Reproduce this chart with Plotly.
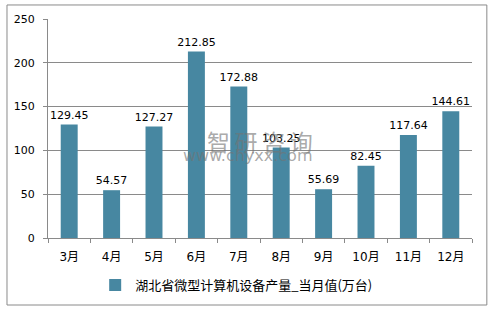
import plotly.graph_objects as go

categories = ["3月", "4月", "5月", "6月", "7月", "8月", "9月", "10月", "11月", "12月"]
values = [129.45, 54.57, 127.27, 212.85, 172.88, 103.25, 55.69, 82.45, 117.64, 144.61]
series_name = "湖北省微型计算机设备产量_当月值(万台)"
y_ticks = [0, 50, 100, 150, 200, 250]

num_font = "DejaVu Sans, Noto Sans CJK SC, sans-serif"
cjk_font = "Noto Sans CJK SC, DejaVu Sans, sans-serif"

fig = go.Figure()
fig.add_trace(go.Bar(
    x=categories, y=values, name=series_name,
    marker=dict(color="#4787a1", line=dict(width=0)),
    width=0.4,
    text=[f"{v:.2f}" for v in values],
    textposition="outside",
    constraintext="none",
    textfont=dict(family=num_font, size=11, color="#000000"),
    cliponaxis=False,
    showlegend=True,
))

# watermark
fig.add_annotation(text="\u2009".join("智研咨询"), xref="paper", yref="paper", x=0.5, y=0.443,
                   showarrow=False, font=dict(family=cjk_font, size=23, color="rgba(115,115,115,0.62)"))
fig.add_annotation(text="www.chyxx.com", xref="paper", yref="paper", x=0.4705, y=0.324,
                   showarrow=False, font=dict(family=num_font, size=16, color="rgba(115,115,115,0.62)"))

# outer chart border
fig.add_shape(type="rect", xref="paper", yref="paper",
              x0=-0.0967, x1=1.035, y0=-0.306, y1=1.064,
              line=dict(color="#8a8a8a", width=1), fillcolor="rgba(0,0,0,0)", layer="below")

fig.update_layout(
    width=494, height=310,
    margin=dict(l=48, r=22, t=19, b=72, autoexpand=False),
    paper_bgcolor="white", plot_bgcolor="white",
    font=dict(family=num_font, size=11, color="#000000"),
    legend=dict(orientation="h", x=0.445, xanchor="center", y=-0.215, yanchor="middle",
                font=dict(family=cjk_font, size=13, color="#000000")),
    xaxis=dict(showline=True, linecolor="#8a8a8a", linewidth=1,
               ticks="outside", ticklen=4, tickcolor="#8a8a8a",
               tickson="boundaries", ticklabelstandoff=8,
               tickfont=dict(family=num_font, size=12)),
    yaxis=dict(range=[0, 250], tickvals=y_ticks, showgrid=True, gridcolor="#8a8a8a", gridwidth=1,
               showline=True, linecolor="#8a8a8a", linewidth=1,
               ticks="outside", ticklen=4, tickcolor="#8a8a8a", ticklabelstandoff=6,
               zeroline=False, tickfont=dict(family=num_font, size=11)),
)

fig.write_html("out.html")
